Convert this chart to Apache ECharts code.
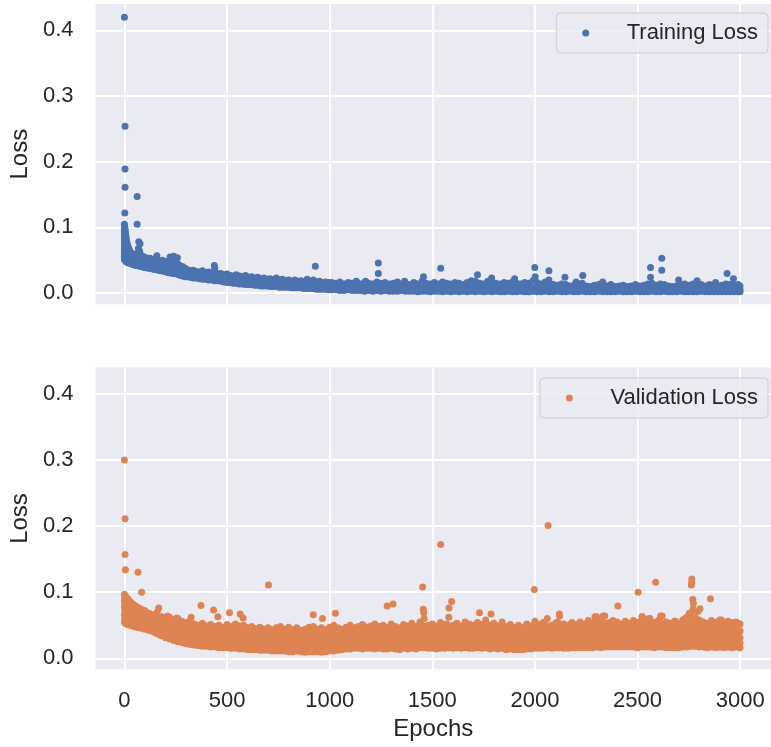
<!DOCTYPE html>
<html>
<head>
<meta charset="utf-8">
<script src="https://cdn.jsdelivr.net/npm/echarts@6/dist/echarts.min.js"></script>
<style>
html,body{margin:0;padding:0;background:#ffffff;}
#chart{width:771px;height:747px;}
</style>
</head>
<body>
<div id="chart"></div>
<script>
// ---------------- DATA ----------------
const xTickValues = [0, 500, 1000, 1500, 2000, 2500, 3000];
const yTickValues = [0, 0.1, 0.2, 0.3, 0.4];
const seriesNames = ['Training Loss', 'Validation Loss'];

// Training loss: each row = [epoch, loss values observed around that epoch]
const trainBandRows = [
  [0,.105,.098,.092,.086,.080,.074,.068,.062,.056,.051],
  [2,.100,.094,.088,.082,.076,.070,.064,.058,.053],
  [4,.096,.089,.083,.077,.071,.065,.059,.054,.050],
  [6,.090,.084,.078,.072,.066,.060,.055,.050],
  [8,.085,.079,.073,.067,.061,.056,.051,.048],
  [10,.080,.074,.068,.063,.058,.053,.049],
  [13,.076,.070,.064,.059,.054,.050,.047],
  [16,.072,.066,.061,.056,.052,.048],
  [20,.069,.063,.058,.053,.049,.046],
  [24,.066,.060,.055,.051,.047],
  [28,.063,.058,.054,.050,.046],
  [33,.061,.056,.052,.048,.045],
  [38,.060,.055,.051,.047,.044],
  [44,.058,.054,.050,.046,.043],
  [50,.059,.053,.049,.045,.043],
  [56,.057,.052,.048,.044,.042],
  [62,.060,.054,.049,.045,.042],
  [68,.068,.056,.050,.046,.042],
  [74,.064,.055,.049,.045,.041],
  [80,.058,.052,.047,.043,.041],
  [88,.056,.051,.046,.042,.040],
  [96,.055,.050,.045,.041,.039],
  [105,.054,.048,.043,.039],
  [115,.052,.046,.041,.038],
  [125,.053,.047,.042,.038],
  [135,.050,.045,.040,.037],
  [145,.051,.046,.041,.036],
  [155,.052,.046,.040,.036],
  [165,.049,.043,.038,.035],
  [175,.048,.042,.037,.034],
  [185,.050,.044,.039,.034],
  [195,.047,.041,.036,.033],
  [205,.048,.042,.037,.032],
  [215,.046,.040,.035,.031],
  [225,.050,.043,.037,.031],
  [235,.047,.041,.035,.030],
  [245,.051,.044,.037,.030],
  [255,.046,.039,.034,.029],
  [265,.043,.037,.032,.028],
  [275,.041,.036,.031,.027],
  [285,.040,.035,.030,.026],
  [295,.038,.033,.029,.025],
  [305,.036,.030,.025],[320,.034,.029,.024],[335,.035,.028,.023],[350,.033,.028,.023],
  [365,.032,.027,.022],[380,.034,.027,.021],[395,.031,.026,.021],[410,.032,.026,.020],
  [425,.030,.025,.020],[440,.033,.025,.019],[455,.029,.024,.019],[470,.030,.023,.018],
  [485,.028,.023,.017],[500,.029,.022,.016],[515,.027,.021,.016],[530,.026,.021,.015],
  [545,.028,.020,.015],[560,.026,.020,.014],[575,.025,.019,.014],[590,.027,.019,.013],
  [605,.024,.018,.013],[620,.025,.018,.013],[635,.023,.017,.012],[650,.024,.017,.012],
  [665,.022,.016,.011],[680,.023,.016,.011],[695,.021,.016,.011],[710,.022,.015,.010],
  [725,.020,.015,.010],[740,.023,.015,.010],[755,.020,.014,.009],[770,.021,.014,.009],
  [785,.019,.014,.009],[800,.020,.013,.009],[815,.018,.013,.008],[830,.020,.013,.008],
  [845,.018,.012,.008],[860,.019,.012,.008],[875,.017,.012,.007],[890,.021,.012,.007],
  [905,.018,.012,.007],[920,.020,.011,.007],[935,.017,.011,.006],[950,.018,.011,.006],
  [965,.016,.011,.006],[980,.017,.010,.006],[995,.016,.010,.005],
  [1010,.016,.010,.005],[1030,.015,.009,.005],[1050,.017,.010,.004],[1070,.014,.009,.004],
  [1090,.016,.009,.005],[1110,.015,.009,.004],[1130,.018,.010,.004],[1150,.014,.008,.004],
  [1170,.016,.009,.003],[1190,.015,.008,.004],[1210,.014,.008,.003],[1230,.017,.009,.004],
  [1250,.015,.008,.003],[1270,.016,.008,.004],[1290,.014,.008,.003],[1310,.015,.008,.003],
  [1330,.017,.009,.003],[1350,.014,.008,.004],[1370,.015,.007,.003],[1390,.013,.007,.003],
  [1410,.016,.008,.003],[1430,.014,.007,.002],[1450,.018,.008,.003],[1470,.015,.008,.003],
  [1490,.014,.007,.002],[1510,.016,.008,.003],[1530,.014,.007,.003],[1550,.017,.008,.002],
  [1570,.015,.007,.003],[1590,.014,.007,.002],[1610,.016,.008,.003],[1630,.015,.007,.002],
  [1650,.013,.007,.003],[1670,.016,.008,.002],[1690,.014,.007,.003],[1710,.018,.008,.002],
  [1730,.015,.007,.003],[1750,.014,.007,.002],[1770,.016,.008,.003],[1790,.018,.008,.002],
  [1810,.015,.007,.003],[1830,.014,.007,.002],[1850,.016,.007,.002],[1870,.015,.007,.003],
  [1890,.017,.008,.002],[1910,.015,.007,.002],[1930,.014,.007,.003],[1950,.016,.008,.002],
  [1970,.015,.007,.002],[1990,.019,.008,.003],[2010,.016,.007,.002],[2030,.014,.007,.002],
  [2050,.017,.008,.003],[2070,.015,.007,.002],[2090,.013,.007,.002],[2110,.012,.006,.003],
  [2130,.014,.007,.002],[2150,.013,.006,.002],[2170,.011,.006,.003],[2190,.012,.006,.002],
  [2210,.014,.006,.002],[2230,.015,.007,.003],[2250,.011,.006,.002],[2270,.010,.005,.002],
  [2290,.012,.006,.002],[2310,.013,.006,.003],[2330,.010,.005,.002],[2350,.011,.005,.002],
  [2370,.013,.006,.002],[2390,.010,.005,.002],[2410,.011,.006,.003],[2430,.012,.005,.002],
  [2450,.010,.005,.002],[2470,.011,.006,.002],[2490,.013,.006,.003],[2510,.011,.005,.002],
  [2530,.012,.006,.002],[2550,.014,.007,.002],[2570,.015,.007,.003],[2590,.012,.006,.002],
  [2610,.014,.006,.002],[2630,.013,.006,.003],[2650,.011,.005,.002],[2670,.010,.005,.002],
  [2690,.011,.005,.002],[2710,.013,.006,.003],[2730,.014,.006,.002],[2750,.012,.005,.002],
  [2770,.014,.006,.002],[2790,.012,.005,.002],[2810,.013,.006,.003],[2830,.011,.005,.002],
  [2850,.013,.006,.002],[2870,.012,.005,.002],[2890,.011,.005,.002],[2910,.012,.006,.002],
  [2930,.014,.006,.002],[2950,.013,.006,.002],[2970,.012,.005,.002],[2990,.013,.006,.002],
  [2999,.011,.005,.002]
];
// Training loss: isolated points standing out from the band, [epoch, loss]
const trainOutliers = [
  [0,.420],[3,.254],[3,.189],[3,.161],[2,.122],[62,.147],[62,.105],[70,.078],[76,.075],
  [158,.057],[222,.055],[240,.056],[258,.054],[438,.042],[440,.038],[930,.041],
  [1237,.046],[1237,.030],[1457,.025],[1541,.038],[1720,.028],[1789,.023],[1901,.022],
  [1999,.039],[2001,.025],[2068,.034],[2068,.020],[2146,.024],[2233,.027],
  [2563,.039],[2563,.024],[2618,.053],[2618,.035],[2936,.030],[2967,.022],
  [1175,.018],[1365,.018],[1690,.019],[1770,.018],[2200,.017],[2330,.017],[2700,.020],[2790,.019],[2880,.016]
];

// Validation loss: each row = [epoch, loss values observed around that epoch]
const valBandRows = [
  [0,.097,.088,.078,.066,.055],[5,.094,.085,.074,.063,.053],[10,.092,.082,.071,.061,.052],
  [15,.090,.079,.069,.060,.052],[20,.088,.077,.068,.059,.051],[30,.085,.075,.066,.057,.050],
  [40,.082,.073,.064,.056,.049],[50,.080,.071,.062,.055,.048],[60,.078,.069,.061,.054,.047],
  [70,.076,.067,.059,.052,.046],[80,.074,.066,.058,.051,.046],[90,.073,.064,.057,.050,.045],
  [100,.072,.063,.056,.049,.044],[120,.068,.060,.053,.047,.042],[140,.066,.058,.051,.045,.040],
  [160,.070,.059,.050,.043,.037],[180,.063,.055,.047,.040,.034],[200,.061,.053,.045,.038,.031],
  [220,.062,.052,.043,.035,.029],[240,.058,.049,.041,.033,.027],[260,.060,.050,.041,.032,.025],
  [280,.056,.047,.038,.030,.024],[300,.054,.045,.036,.029,.022],[320,.057,.046,.036,.028,.021],
  [340,.052,.043,.034,.027,.020],[360,.050,.042,.033,.026,.019],[380,.053,.043,.034,.026,.018],
  [400,.049,.040,.032,.025,.018],[420,.051,.041,.032,.024,.017],[440,.048,.040,.031,.024,.017],
  [460,.050,.040,.031,.023,.016],[480,.047,.039,.030,.023,.016],[500,.051,.041,.031,.023,.016],
  [520,.048,.039,.030,.022,.015],[540,.052,.041,.031,.022,.015],[560,.049,.039,.030,.022,.014],
  [580,.050,.040,.030,.021,.014],[600,.046,.037,.029,.021,.013],[620,.048,.038,.029,.020,.013],
  [640,.045,.036,.028,.020,.013],[660,.047,.037,.028,.020,.012],[680,.044,.035,.027,.019,.012],
  [700,.046,.036,.027,.019,.012],[720,.043,.035,.027,.019,.011],[740,.046,.036,.027,.019,.011],
  [760,.048,.037,.028,.019,.011],[780,.044,.035,.026,.018,.011],[800,.047,.036,.027,.018,.010],
  [820,.043,.034,.026,.018,.010],[840,.046,.035,.026,.018,.011],[860,.042,.033,.025,.017,.010],
  [880,.044,.034,.025,.017,.009],[900,.047,.035,.026,.017,.010],[920,.048,.036,.026,.018,.010],
  [940,.044,.034,.025,.017,.010],[960,.046,.035,.026,.017,.009],[980,.043,.033,.025,.017,.010],
  [1000,.047,.036,.026,.018,.011],[1020,.050,.037,.027,.018,.011],[1040,.046,.035,.026,.018,.012],
  [1060,.044,.034,.025,.018,.013],[1080,.047,.036,.027,.019,.014],[1100,.050,.038,.028,.020,.014],
  [1120,.046,.036,.027,.020,.015],[1140,.048,.037,.028,.021,.015],[1160,.051,.039,.029,.021,.014],
  [1180,.047,.036,.027,.020,.015],[1200,.049,.037,.028,.021,.015],[1220,.052,.039,.029,.021,.014],
  [1240,.048,.037,.028,.021,.015],[1260,.050,.038,.029,.021,.014],[1280,.047,.036,.028,.020,.014],
  [1300,.052,.040,.030,.021,.015],[1320,.048,.037,.028,.020,.014],[1340,.046,.036,.027,.020,.013],
  [1360,.051,.039,.030,.022,.015],[1380,.049,.038,.029,.021,.014],[1400,.053,.040,.031,.022,.015],
  [1420,.048,.037,.028,.020,.014],[1440,.055,.042,.032,.023,.016],[1460,.060,.045,.033,.024,.016],
  [1480,.050,.039,.030,.022,.015],[1500,.052,.040,.030,.022,.015],[1520,.049,.038,.029,.021,.014],
  [1540,.054,.041,.031,.022,.015],[1560,.051,.039,.030,.022,.015],[1580,.062,.046,.034,.024,.016],
  [1600,.050,.039,.030,.022,.015],[1620,.053,.041,.031,.023,.016],[1640,.049,.038,.029,.021,.015],
  [1660,.055,.042,.032,.023,.016],[1680,.052,.040,.030,.022,.015],[1700,.050,.039,.030,.022,.015],
  [1720,.054,.041,.031,.023,.016],[1740,.051,.040,.030,.022,.015],[1760,.058,.043,.032,.023,.016],
  [1780,.050,.039,.030,.022,.014],[1800,.053,.041,.031,.022,.015],[1820,.049,.038,.029,.021,.014],
  [1840,.055,.042,.031,.022,.015],[1860,.048,.037,.028,.020,.013],[1880,.051,.039,.029,.021,.014],
  [1900,.047,.037,.028,.020,.013],[1920,.050,.038,.029,.021,.013],[1940,.046,.036,.028,.020,.013],
  [1960,.052,.040,.030,.021,.014],[1980,.049,.038,.029,.021,.014],[2000,.056,.042,.031,.022,.015],
  [2020,.051,.040,.030,.022,.015],[2040,.054,.041,.031,.022,.015],[2060,.060,.044,.032,.023,.016],
  [2080,.050,.039,.030,.022,.015],[2100,.053,.041,.031,.022,.016],[2120,.064,.047,.034,.024,.016],
  [2140,.052,.040,.030,.022,.015],[2160,.050,.039,.030,.022,.015],[2180,.054,.042,.032,.023,.016],
  [2200,.051,.040,.031,.023,.016],[2220,.055,.042,.032,.023,.016],[2240,.052,.041,.031,.023,.016],
  [2260,.057,.043,.032,.023,.016],[2280,.053,.041,.031,.023,.016],[2300,.063,.047,.034,.024,.017],
  [2320,.056,.043,.032,.023,.016],[2340,.064,.047,.035,.025,.017],[2360,.054,.042,.032,.024,.017],
  [2380,.057,.044,.033,.024,.017],[2400,.055,.043,.033,.024,.017],[2420,.052,.041,.032,.024,.017],
  [2440,.056,.043,.033,.024,.017],[2460,.053,.042,.032,.024,.017],[2480,.057,.044,.033,.024,.017],
  [2500,.054,.042,.032,.024,.016],[2520,.063,.047,.035,.025,.017],[2540,.056,.043,.033,.024,.017],
  [2560,.060,.045,.034,.025,.017],[2580,.054,.042,.032,.024,.016],[2600,.057,.044,.033,.024,.017],
  [2620,.064,.047,.035,.025,.017],[2640,.055,.043,.033,.024,.016],[2660,.053,.042,.032,.024,.016],
  [2680,.056,.043,.033,.024,.016],[2700,.052,.041,.032,.023,.016],[2720,.058,.045,.034,.025,.017],
  [2740,.062,.047,.035,.025,.017],[2760,.068,.050,.037,.026,.018],[2780,.063,.048,.036,.026,.018],
  [2800,.058,.045,.034,.025,.017],[2820,.055,.043,.033,.024,.017],[2840,.053,.042,.032,.024,.016],
  [2860,.057,.044,.033,.024,.017],[2880,.054,.042,.032,.024,.016],[2900,.058,.044,.033,.024,.017],
  [2920,.053,.042,.032,.024,.016],[2940,.056,.043,.033,.024,.017],[2960,.054,.042,.032,.024,.016],
  [2980,.055,.043,.033,.024,.017],[2999,.052,.041,.031,.023,.016]
];
// Validation loss: further points read between the rows above, [epoch, loss values]
const valBandRowsBetween = [
  [2,.092,.083,.072,.060],[7,.090,.079,.068,.057],[12,.087,.076,.065,.056],[25,.083,.072,.063,.054],
  [35,.080,.070,.060,.053],[45,.078,.067,.059,.052],[55,.076,.066,.058,.050],[65,.073,.064,.056,.049],
  [75,.071,.062,.055,.048],[85,.070,.061,.054,.047],[95,.069,.060,.052,.046],[110,.067,.058,.051,.045],
  [130,.064,.056,.048,.042],[150,.063,.054,.046,.039],[170,.061,.052,.044,.036],[190,.059,.049,.041,.035],
  [210,.056,.047,.039,.032],[230,.055,.045,.037,.030],[250,.053,.044,.036,.028],[270,.052,.042,.034,.026],
  [290,.050,.040,.032,.024],[310,.049,.039,.031,.023],[330,.047,.038,.030,.022],[350,.046,.037,.029,.021],
  [370,.045,.036,.028,.020],[390,.044,.035,.027,.019],[410,.045,.035,.027,.019],[430,.043,.034,.026,.018],
  [450,.044,.034,.026,.018],[470,.042,.033,.025,.017],[490,.044,.034,.025,.018],[510,.043,.033,.025,.017],
  [530,.045,.034,.025,.017],[550,.043,.033,.024,.016],[570,.044,.034,.025,.016],[590,.041,.032,.024,.016],
  [610,.042,.033,.024,.015],[630,.040,.031,.023,.015],[650,.041,.032,.023,.015],[670,.039,.031,.022,.014],
  [690,.040,.031,.023,.014],[710,.038,.030,.022,.014],[730,.040,.031,.022,.013],[750,.041,.032,.023,.013],
  [770,.039,.030,.022,.013],[790,.040,.031,.022,.013],[810,.038,.029,.021,.012],[830,.040,.030,.021,.012],
  [850,.037,.029,.020,.012],[870,.039,.030,.021,.012],[890,.040,.030,.021,.012],[910,.041,.031,.022,.012],
  [930,.039,.030,.021,.012],[950,.040,.030,.021,.012],[970,.038,.029,.021,.012],[990,.041,.031,.022,.013],
  [1010,.043,.032,.023,.014],[1030,.040,.031,.022,.015],[1050,.039,.030,.022,.016],[1070,.041,.031,.023,.017],
  [1090,.043,.033,.024,.017],[1110,.041,.032,.024,.018],[1130,.042,.033,.024,.018],[1150,.044,.034,.025,.018],
  [1170,.042,.032,.024,.018],[1190,.043,.033,.025,.018],[1210,.045,.034,.025,.018],[1230,.042,.033,.024,.018],
  [1250,.044,.034,.025,.017],[1270,.042,.032,.024,.017],[1290,.045,.035,.026,.018],[1310,.043,.033,.024,.017],
  [1330,.041,.032,.024,.017],[1350,.045,.035,.026,.018],[1370,.043,.034,.025,.017],[1390,.046,.035,.026,.018],
  [1410,.043,.033,.024,.017],[1430,.048,.036,.027,.019],[1450,.050,.038,.028,.019],[1470,.044,.034,.025,.018],
  [1490,.046,.035,.026,.018],[1510,.043,.033,.025,.017],[1530,.047,.036,.026,.018],[1550,.045,.034,.025,.018],
  [1570,.052,.039,.029,.019],[1590,.044,.034,.025,.018],[1610,.046,.035,.026,.019],[1630,.043,.033,.025,.018],
  [1650,.048,.036,.027,.019],[1670,.045,.035,.026,.018],[1690,.044,.034,.025,.018],[1710,.047,.036,.026,.019],
  [1730,.045,.035,.026,.018],[1750,.050,.038,.028,.019],[1770,.044,.034,.025,.018],[1790,.046,.035,.026,.018],
  [1810,.043,.033,.024,.017],[1830,.048,.036,.026,.018],[1850,.042,.032,.024,.016],[1870,.045,.034,.025,.017],
  [1890,.042,.032,.024,.016],[1910,.044,.033,.024,.016],[1930,.041,.032,.024,.016],[1950,.045,.035,.025,.017],
  [1970,.043,.033,.025,.017],[1990,.049,.037,.027,.018],[2010,.045,.035,.026,.018],[2030,.047,.036,.026,.018],
  [2050,.052,.039,.028,.019],[2070,.044,.034,.026,.018],[2090,.046,.035,.026,.019],[2110,.055,.041,.030,.020],
  [2130,.046,.035,.026,.018],[2150,.044,.034,.026,.018],[2170,.047,.036,.027,.019],[2190,.045,.035,.027,.019],
  [2210,.048,.037,.027,.019],[2230,.046,.036,.027,.019],[2250,.050,.038,.028,.019],[2270,.047,.036,.027,.019],
  [2290,.055,.041,.030,.020],[2310,.049,.038,.028,.019],[2330,.055,.042,.030,.021],[2350,.048,.037,.028,.020],
  [2370,.050,.038,.028,.020],[2390,.049,.038,.028,.020],[2410,.046,.036,.027,.020],[2430,.049,.038,.028,.020],
  [2450,.047,.036,.027,.020],[2470,.050,.038,.028,.020],[2490,.048,.037,.027,.019],[2510,.055,.042,.030,.021],
  [2530,.049,.038,.028,.020],[2550,.052,.040,.029,.020],[2570,.048,.037,.027,.019],[2590,.050,.038,.028,.020],
  [2610,.055,.042,.030,.021],[2630,.049,.038,.028,.019],[2650,.047,.036,.027,.019],[2670,.049,.038,.028,.019],
  [2690,.046,.036,.027,.019],[2710,.051,.039,.029,.020],[2730,.054,.041,.030,.021],[2750,.059,.044,.032,.022],
  [2770,.055,.042,.031,.022],[2790,.051,.039,.029,.020],[2810,.049,.038,.028,.020],[2830,.047,.037,.027,.019],
  [2850,.050,.038,.028,.020],[2870,.048,.037,.027,.019],[2890,.051,.039,.028,.020],[2910,.047,.037,.027,.019],
  [2930,.049,.038,.028,.020],[2950,.048,.037,.027,.019],[2970,.049,.038,.028,.020],[2990,.047,.036,.027,.019]
];
// Validation loss: isolated points standing out from the band, [epoch, loss]
const valOutliers = [
  [0,.300],[3,.211],[3,.157],[5,.134],[66,.130],[84,.100],[167,.076],[210,.064],[255,.061],
  [325,.062],[373,.080],[434,.073],[455,.063],[512,.069],[564,.067],[578,.061],[702,.111],
  [920,.066],[965,.060],[1028,.068],[1280,.079],[1309,.082],[1453,.108],[1456,.074],[1458,.069],
  [1541,.172],[1581,.076],[1594,.086],[1730,.069],[1786,.067],[1997,.104],[2064,.201],
  [2119,.067],[2292,.063],[2332,.064],[2404,.079],[2503,.100],[2524,.063],[2556,.060],
  [2588,.115],[2612,.064],[2684,.056],[2732,.060],[2752,.068],[2764,.120],[2764,.115],
  [2762,.111],[2769,.089],[2772,.083],[2770,.074],[2796,.071],[2804,.075],[2855,.090],
  [2908,.058],[2988,.053]
];

// ---------------- BUILD ----------------
function flattenRows(rows) {
  const pts = [];
  rows.forEach(function (r) {
    for (let i = 1; i < r.length; i++) pts.push([r[0], r[i]]);
  });
  return pts;
}
const trainPoints = flattenRows(trainBandRows).concat(trainOutliers);
const valPoints = flattenRows(valBandRows).concat(flattenRows(valBandRowsBetween), valOutliers);

const FONT = '"Liberation Sans", Arial, "DejaVu Sans", sans-serif';
const TXT = '#262626';
const BLUE = '#4c72b0';
const ORANGE = '#dd8452';
const PANEL = '#eaeaf2';

function xAxisCfg(gridIndex, showLabels) {
  return {
    type: 'value', gridIndex: gridIndex, min: -141, max: 3150,
    axisLine: { show: false },
    axisTick: { show: false, customValues: xTickValues },
    splitLine: { show: true, lineStyle: { color: '#ffffff', width: 2 } },
    axisLabel: {
      show: showLabels, customValues: xTickValues, margin: 20,
      formatter: function (v) { return String(v); },
      fontFamily: FONT, fontSize: 22, color: TXT
    },
    name: showLabels ? 'Epochs' : '',
    nameLocation: 'middle', nameGap: 48,
    nameTextStyle: { fontFamily: FONT, fontSize: 24, color: TXT }
  };
}
function yAxisCfg(gridIndex) {
  return {
    type: 'value', gridIndex: gridIndex, min: -0.017, max: 0.44,
    axisLine: { show: false },
    axisTick: { show: false, customValues: yTickValues },
    splitLine: { show: true, lineStyle: { color: '#ffffff', width: 2 } },
    axisLabel: {
      customValues: yTickValues, margin: 22,
      formatter: function (v) { return v.toFixed(1); },
      fontFamily: FONT, fontSize: 22, color: TXT
    },
    name: 'Loss', nameLocation: 'middle', nameGap: 60, nameRotate: 90,
    nameTextStyle: { fontFamily: FONT, fontSize: 24, color: TXT }
  };
}
function legendCfg(name, top) {
  return {
    data: [name], right: 3, top: top, orient: 'horizontal',
    icon: 'circle', itemWidth: 14, itemHeight: 7,
    padding: [9, 10, 9, 26],
    backgroundColor: 'rgba(234,234,242,0.8)', borderColor: '#cccccc', borderWidth: 1, borderRadius: 4,
    selectedMode: false,
    textStyle: { fontFamily: FONT, fontSize: 22, color: TXT, padding: [0, 0, 0, 29] }
  };
}

const chart = echarts.init(document.getElementById('chart'), null, { renderer: 'canvas' });
chart.setOption({
  backgroundColor: '#ffffff',
  animation: false,
  grid: [
    { left: 94, top: 4, width: 686.6, height: 300.3, show: true, backgroundColor: PANEL, borderWidth: 0 },
    { left: 94, top: 367.5, width: 686.6, height: 302, show: true, backgroundColor: PANEL, borderWidth: 0 }
  ],
  xAxis: [xAxisCfg(0, false), xAxisCfg(1, true)],
  yAxis: [yAxisCfg(0), yAxisCfg(1)],
  legend: [legendCfg(seriesNames[0], 13), legendCfg(seriesNames[1], 378)],
  series: [
    {
      name: seriesNames[0], type: 'scatter', xAxisIndex: 0, yAxisIndex: 0,
      data: trainPoints, symbol: 'circle', symbolSize: 7,
      itemStyle: { color: BLUE, opacity: 1 }, emphasis: { disabled: true }
    },
    {
      name: seriesNames[1], type: 'scatter', xAxisIndex: 1, yAxisIndex: 1,
      data: valPoints, symbol: 'circle', symbolSize: 7,
      itemStyle: { color: ORANGE, opacity: 1 }, emphasis: { disabled: true }
    }
  ]
});
</script>
</body>
</html>
